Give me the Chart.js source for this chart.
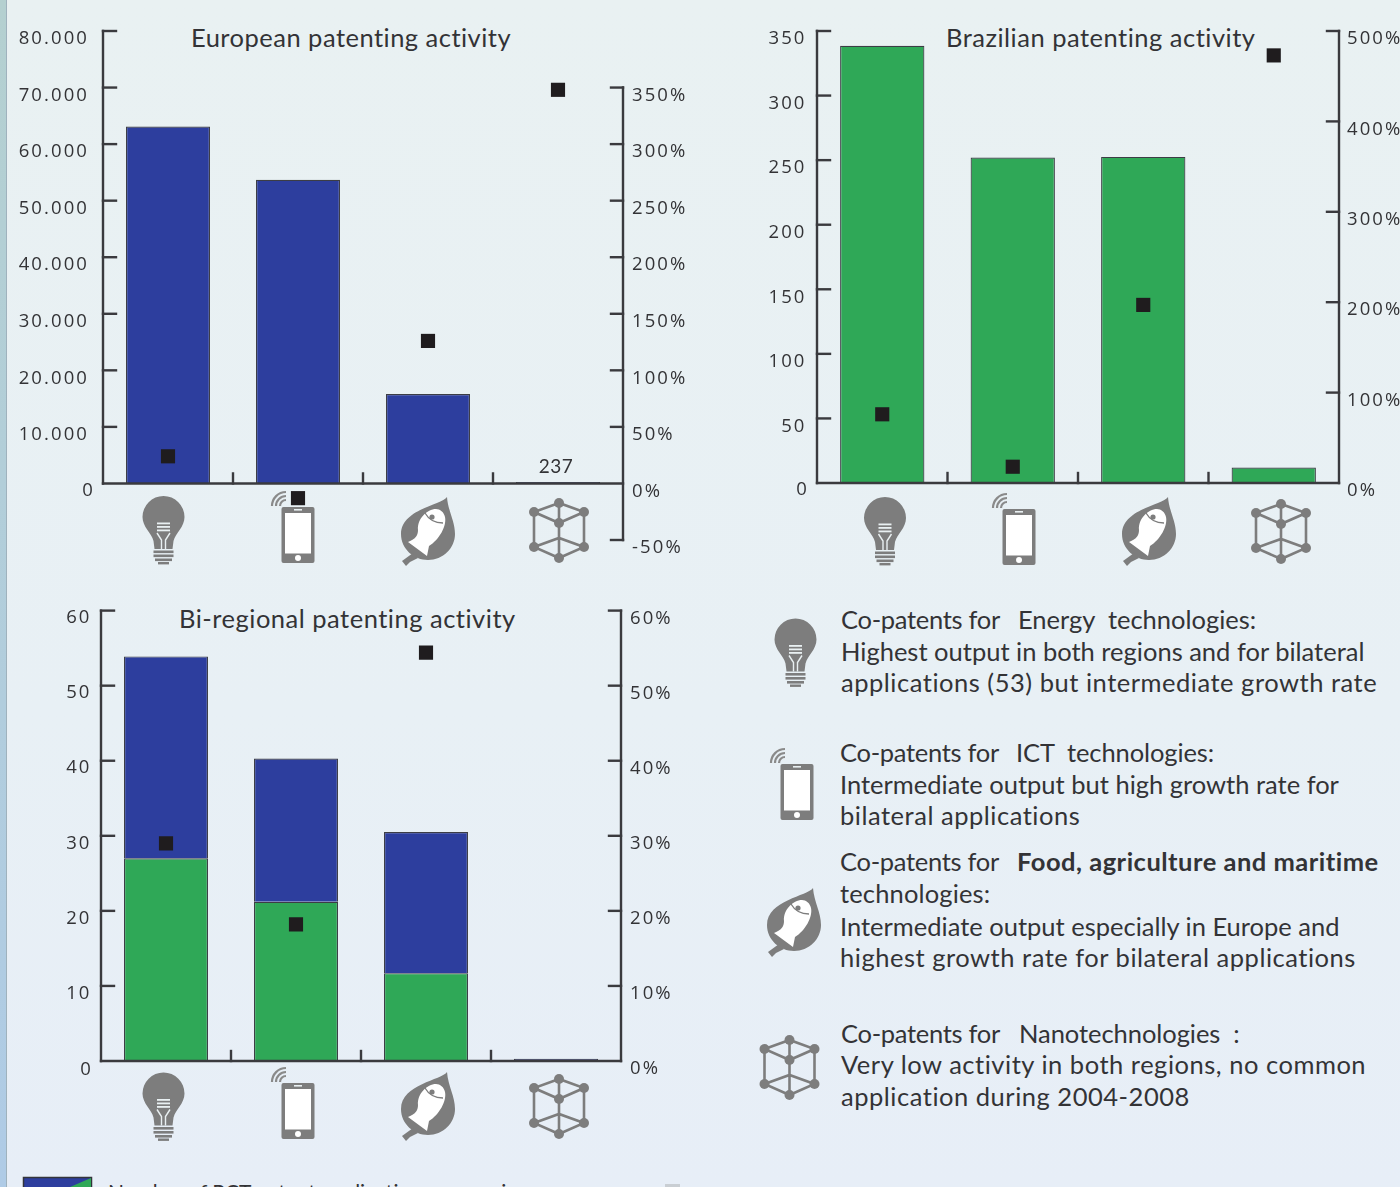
<!DOCTYPE html>
<html><head><meta charset="utf-8">
<script src="https://cdn.jsdelivr.net/npm/chart.js@4"></script>
<style>
html,body{margin:0;padding:0;width:1400px;height:1187px;overflow:hidden;}
body{position:relative;background:linear-gradient(180deg,#e9f1f2 0%,#e8f0f5 60%,#e7eef7 100%);font-family:Lato,sans-serif;color:#333336;}
#strip{position:absolute;left:0;top:0;width:6px;height:1187px;background:linear-gradient(180deg,#b4d0d0,#afcbe6);border-right:1px solid #9fb2bd;}
canvas{position:absolute;}
svg.icons{position:absolute;left:0;top:0;}
.t{position:absolute;white-space:pre;font-size:25.5px;line-height:30px;}
.w{letter-spacing:.52px;}
</style></head><body>
<div id="strip"></div>
<svg class="icons" width="1400" height="1187" id="icons">
<defs>
<g id="bulb"><path fill="#7d7d7d" d="M-9 18L-10 10C-12 2-21-4-21-14A21 21 0 0 1 21-14C21-4 12 2 10 10L9 18Z"/>
<g fill="#e9f0f2"><rect x="-6.5" y="-8.5" width="13" height="1.8"/><rect x="-6.5" y="-5" width="13" height="1.8"/><rect x="-6.5" y="-1.5" width="13" height="1.8"/></g>
<path fill="none" stroke="#e9f0f2" stroke-width="1.4" d="M-6.5 2L-2 9V18M6.5 2L2 9V18"/>
<g fill="#7d7d7d"><rect x="-10" y="19.5" width="20" height="2.6"/><rect x="-10" y="23.5" width="20" height="2.6"/><rect x="-8.5" y="27.5" width="17" height="2.6"/><rect x="-5.5" y="31" width="11" height="2.4"/></g></g>
<g id="phone"><rect x="-16.5" y="-28" width="33" height="56" rx="2" fill="#7d7d7d"/><rect x="-13" y="-22" width="26" height="40.5" fill="#fff"/><rect x="-4" y="-26" width="8" height="1.6" fill="#e9f0f2"/><circle cx="0" cy="23" r="3" fill="#fff"/>
<path fill="none" stroke="#8a8a8a" stroke-width="2.2" d="M-26-29A14 14 0 0 1-12-43M-22-29A10 10 0 0 1-12-39M-18-29A6 6 0 0 1-12-35"/></g>
<g id="leaf"><path fill="#7d7d7d" d="M19-34C14-26-27-22-27 3C-27 18-14 29 0 29C15 29 27 17 27 3C27-10 20-20 19-34Z"/><path fill="#7d7d7d" d="M-15 22L-26 30L-22 35L-18 31L-10 27Z"/>
<path fill="#fff" d="M8-22C-1-22-11-12-10-1C-10 4-12 8-20 11L-1 25L1 15C11 9 19-5 17-14C16-19 12-22 8-22Z"/><circle cx="4" cy="-14" r="2.6" fill="#7d7d7d"/><path fill="none" stroke="#7d7d7d" stroke-width="1.3" d="M-3-18C1-11 6-8 15-8"/></g>
<g id="nano"><path fill="none" stroke="#7d7d7d" stroke-width="2.6" d="M0-27L-25-18L0-7L25-18ZM-25-18V17L0 28L25 17V-18M-25 17L0 8L25 17M0-27V28"/>
<g fill="#7d7d7d"><circle cx="0" cy="-27" r="5"/><circle cx="-25" cy="-18" r="5"/><circle cx="25" cy="-18" r="5"/><circle cx="0" cy="-7" r="5"/><circle cx="-25" cy="17" r="5"/><circle cx="25" cy="17" r="5"/><circle cx="0" cy="28" r="5"/></g></g>
</defs>
<use href="#bulb" x="163.5" y="531"/><use href="#phone" x="298" y="535"/><use href="#leaf" x="428" y="531"/><use href="#nano" x="559" y="530"/>
<use href="#bulb" x="885" y="532"/><use href="#phone" x="1019" y="537"/><use href="#leaf" x="1149" y="531"/><use href="#nano" x="1281" y="531"/>
<use href="#bulb" x="163.5" y="1107.5"/><use href="#phone" x="298" y="1111"/><use href="#leaf" x="428" y="1106"/><use href="#nano" x="559" y="1106"/>
<use href="#bulb" x="795.5" y="653.5"/><use href="#phone" x="797" y="792"/><use href="#leaf" x="794" y="922"/><use href="#nano" x="789.5" y="1067"/>
<rect x="23.5" y="1177.5" width="68" height="12" fill="#2d3e9e" stroke="#33343a" stroke-width="1.5"/>
<path d="M91 1178L70 1187H91Z" fill="#2fa857"/>
<rect x="665" y="1184" width="15" height="3" fill="#c9ced3"/>
</svg>

<div class="t" style="left:191px;top:22px;letter-spacing:.48px">European patenting activity</div>
<div class="t" style="left:946px;top:22px;letter-spacing:.5px">Brazilian patenting activity</div>
<div class="t" style="left:179px;top:603px;letter-spacing:.5px">Bi-regional patenting activity</div>

<div class="t" style="left:841px;top:604px;letter-spacing:-.3px">Co-patents for</div><div class="t" style="left:1018px;top:604px">Energy  technologies:</div>
<div class="t" style="left:841px;top:636px">Highest output in both regions and for bilateral</div>
<div class="t w" style="left:841px;top:667px">applications (53) but intermediate growth rate</div>

<div class="t" style="left:840px;top:737px;letter-spacing:-.3px">Co-patents for</div><div class="t" style="left:1016px;top:737px;letter-spacing:-.1px">ICT  technologies:</div>
<div class="t" style="left:840px;top:769px">Intermediate output but high growth rate for</div>
<div class="t w" style="left:840px;top:800px">bilateral applications</div>

<div class="t" style="left:840px;top:846px;letter-spacing:-.3px">Co-patents for</div><div class="t" style="left:1017px;top:846px;font-weight:700;letter-spacing:.5px">Food, agriculture and maritime</div>
<div class="t" style="left:840px;top:878px;letter-spacing:.15px">technologies:</div>
<div class="t" style="left:840px;top:911px">Intermediate output especially in Europe and</div>
<div class="t w" style="left:840px;top:942px">highest growth rate for bilateral applications</div>

<div class="t" style="left:841px;top:1018px;letter-spacing:-.3px">Co-patents for</div><div class="t" style="left:1019px;top:1018px;letter-spacing:-.05px">Nanotechnologies  :</div>
<div class="t w" style="left:841px;top:1049px">Very low activity in both regions, no common</div>
<div class="t w" style="left:841px;top:1081px">application during 2004-2008</div>

<div class="t" style="left:108px;top:1177px;font-size:21px">Number of PCT patent applications per region</div>

<canvas id="c1" width="700" height="600" style="left:0;top:0"></canvas>
<canvas id="c2" width="700" height="600" style="left:700px;top:0"></canvas>
<canvas id="c3" width="700" height="510" style="left:0;top:590px"></canvas>

<script>
const categories = ["Energy", "ICT", "Food, agriculture and maritime", "Nanotechnologies"];
const europeCounts = [63100, 53700, 15800, 237];
const europeGrowth = [24, -13, 126, 348];
const brazilCounts = [338.5, 252, 252.5, 12];
const brazilGrowth = [76, 18, 197, 473];
const biBrazil = [27, 21.2, 11.7, 0];
const biEurope = [26.9, 19.1, 18.8, 0.3];
const biGrowth = [29, 18.2, 54.4, null];
const europeTicksLeftMin = -10000;

const BLUE = '#2d3e9e', GREEN = '#2fa857', EDGE = '#3c3d45', INK = '#333336';
const TICK_FONT = {family: "'Open Sans'", size: 18.5};
const dots = v => String(v).replace(/\B(?=(\d{3})+$)/g, '.');

function frame(cfg) {
  return {
    id: 'frame',
    beforeDraw(c) { c.ctx.letterSpacing = '2.1px'; },
    afterDatasetsDraw(c) {
      const {ctx, scales: {x, y, y1}, chartArea: a} = c;
      const zero = y.getPixelForValue(0);
      ctx.save();
      ctx.strokeStyle = '#3a3a3e'; ctx.lineWidth = 2.4; ctx.lineCap = 'square';
      const line = (x0, y0, x1, y1_) => { ctx.beginPath(); ctx.moveTo(x0, y0); ctx.lineTo(x1, y1_); ctx.stroke(); };
      line(a.left, zero, a.left, y.getPixelForValue(cfg.leftMax));
      y.ticks.forEach(t => { if (t.value > 0 && t.value <= cfg.leftMax) { const p = y.getPixelForValue(t.value); line(a.left, p, a.left + 13, p); } });
      line(a.right, y1.getPixelForValue(cfg.rightMin), a.right, y1.getPixelForValue(cfg.rightMax));
      y1.ticks.forEach(t => { if (t.value >= cfg.rightMin && t.value <= cfg.rightMax && t.value !== 0) { const p = y1.getPixelForValue(t.value); line(a.right, p, a.right - 12, p); } });
      line(a.left, zero, a.right, zero);
      for (let i = 1; i < categories.length; i++) {
        const p = (x.getPixelForValue(i - 1) + x.getPixelForValue(i)) / 2;
        line(p, zero, p, zero - 10);
      }
      ctx.fillStyle = INK; ctx.textBaseline = 'middle';
      ctx.font = "18.5px 'Open Sans'"; ctx.textAlign = 'right';
      ctx.fillText('0', cfg.zeroRight, zero + cfg.zeroDrop);
      if (cfg.note) {
        const m = c.getDatasetMeta(cfg.note.dataset).data[cfg.note.index];
        ctx.font = "19px Lato"; ctx.textAlign = 'center'; ctx.textBaseline = 'bottom';
        ctx.letterSpacing = '0.4px';
        ctx.fillText(String(c.data.datasets[cfg.note.dataset].data[cfg.note.index]), m.x - 2, m.y - 6);
      }
      ctx.restore();
    }
  };
}

function yAxis(pos, min, max, step, width, pad, off, fmt) {
  return {
    position: pos, min, max,
    grid: {display: false, drawTicks: false},
    border: {display: false},
    afterFit: s => { s.width = width; },
    ticks: {stepSize: step, autoSkip: false, padding: pad, labelOffset: off, color: INK, font: TICK_FONT, callback: fmt}
  };
}

function build(id, datasets, layout, y, y1, cfg, stacked) {
  return new Chart(document.getElementById(id), {
    type: 'bar',
    data: {labels: categories, datasets},
    options: {
      responsive: false, animation: false, devicePixelRatio: 1,
      layout: {padding: layout},
      plugins: {legend: {display: false}, tooltip: {enabled: false}, title: {display: false}},
      scales: {
        x: {display: false, stacked: !!stacked, grid: {display: false}},
        y: Object.assign(y, stacked ? {stacked: true} : {}),
        y1: y1
      }
    },
    plugins: [frame(cfg)]
  });
}

const barSet = (label, data, color) => ({label, data, backgroundColor: color, borderColor: EDGE, borderWidth: 1.2, barPercentage: 0.646, categoryPercentage: 1, yAxisID: 'y', order: 2});
const growthSet = (data) => ({type: 'line', label: 'Growth rate', data, yAxisID: 'y1', showLine: false, pointStyle: 'rect', pointRadius: 10, pointHoverRadius: 10, pointBorderWidth: 0, backgroundColor: '#1f1c1e', pointBackgroundColor: '#1f1c1e', order: 1});
const pct = v => v + '%';
const noZero = f => v => v === 0 ? '' : f(v);

build('c1',
  [barSet('European applications', europeCounts, BLUE), growthSet(europeGrowth)],
  {top: 31, bottom: 60, left: 0, right: 0},
  yAxis('left', europeTicksLeftMin, 80000, 10000, 103, 14, 8, v => v <= 0 ? '' : dots(v)),
  yAxis('right', -50, 400, 50, 77, 9, 8, v => v > 350 ? '' : pct(v)),
  {leftMax: 80000, rightMin: -50, rightMax: 350, zeroRight: 95, zeroDrop: 7, note: {dataset: 0, index: 3}}
);

build('c2',
  [barSet('Brazilian applications', brazilCounts, GREEN), growthSet(brazilGrowth)],
  {top: 31, bottom: 117, left: 0, right: 0},
  yAxis('left', 0, 350, 50, 117, 10.5, 8, noZero(String)),
  yAxis('right', 0, 500, 100, 61, 8, 8, pct),
  {leftMax: 350, rightMin: 0, rightMax: 500, zeroRight: 109, zeroDrop: 7}
);

build('c3',
  [barSet('Brazil', biBrazil, GREEN), barSet('Europe', biEurope, BLUE), growthSet(biGrowth)],
  {top: 19, bottom: 39, left: 0, right: 0},
  yAxis('left', 0, 60, 10, 101, 9.5, 7.5, noZero(String)),
  yAxis('right', 0, 60, 10, 79, 9, 8, pct),
  {leftMax: 60, rightMin: 0, rightMax: 60, zeroRight: 93, zeroDrop: 9},
  true
);
</script>
</body></html>
